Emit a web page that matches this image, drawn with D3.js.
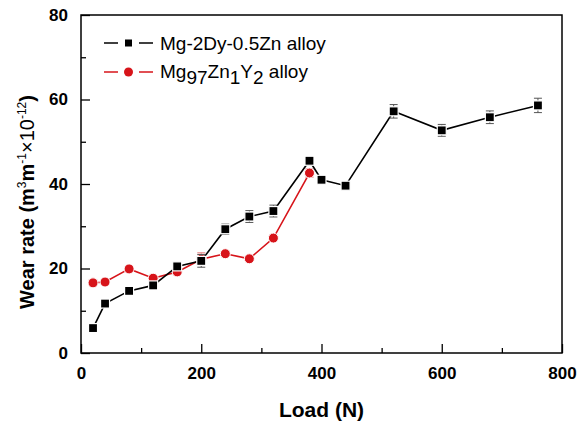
<!DOCTYPE html>
<html>
<head>
<meta charset="utf-8">
<script src="https://cdn.jsdelivr.net/npm/d3@7"></script>
<style>
  body { margin: 0; background: #fff; }
  text { font-family: "Liberation Sans", Arial, sans-serif; }
</style>
</head>
<body>
<div id="container"></div>
<script>
const w = 579;
const h = 423;

// Mg-2Dy-0.5Zn alloy
const loadA = [20, 40, 80, 120, 160, 200, 240, 280, 320, 380, 400, 440, 520, 600, 680, 760];
const rateA = [5.9, 11.7, 14.7, 16.0, 20.5, 21.8, 29.3, 32.3, 33.6, 45.5, 41.0, 39.6, 57.2, 52.7, 55.8, 58.6];
const errA  = [0.4, 0.4, 0.4, 0.4, 0.5, 1.5, 1.2, 1.4, 1.4, 1.0, 0.5, 0.4, 1.6, 1.4, 1.5, 1.7];

// Mg97Zn1Y2 alloy
const loadB = [20, 40, 80, 120, 160, 200, 240, 280, 320, 380];
const rateB = [16.6, 16.8, 19.9, 17.7, 19.2, 22.2, 23.5, 22.3, 27.2, 42.6];
const errB  = [0.4, 0.4, 0.4, 0.4, 0.4, 1.5, 0.5, 0.4, 0.5, 1.0];

const xTicks = [0, 200, 400, 600, 800];
const yTicks = [0, 20, 40, 60, 80];

const margin = { left: 81, right: 17, top: 15, bottom: 70 };

const svg = d3.select("#container")
  .append("svg")
  .attr("width", w)
  .attr("height", h);

const xScale = d3.scaleLinear()
  .domain([0, 800])
  .range([margin.left, w - margin.right]);

const yScale = d3.scaleLinear()
  .domain([0, 80])
  .range([h - margin.bottom, margin.top]);

// frame
svg.append("rect")
  .attr("x", xScale(0))
  .attr("y", yScale(80))
  .attr("width", xScale(800) - xScale(0))
  .attr("height", yScale(0) - yScale(80))
  .attr("fill", "none")
  .attr("stroke", "#000")
  .attr("stroke-width", 1.5);

// minor ticks
svg.append("g")
  .attr("transform", "translate(0," + yScale(0) + ")")
  .call(d3.axisBottom(xScale).tickValues(d3.range(100, 800, 200)).tickSize(-5).tickFormat(""))
  .call(g => g.select(".domain").remove());
svg.append("g")
  .attr("transform", "translate(" + xScale(0) + ",0)")
  .call(d3.axisLeft(yScale).tickValues(d3.range(10, 80, 20)).tickSize(-5).tickFormat(""))
  .call(g => g.select(".domain").remove());

const xAxis = svg.append("g")
  .attr("transform", "translate(0," + yScale(0) + ")")
  .call(d3.axisBottom(xScale).tickValues(xTicks).tickSize(-9).tickPadding(14));
xAxis.select(".domain").remove();

const yAxis = svg.append("g")
  .attr("transform", "translate(" + xScale(0) + ",0)")
  .call(d3.axisLeft(yScale).tickValues(yTicks).tickSize(-9).tickPadding(13));
yAxis.select(".domain").remove();

svg.selectAll(".tick line").attr("stroke", "#000").attr("stroke-width", 1.3);
svg.selectAll(".tick text")
  .style("font-size", "17px")
  .style("font-weight", "bold")
  .attr("fill", "#000");

// axis titles
svg.append("text")
  .attr("x", (xScale(0) + xScale(800)) / 2)
  .attr("y", 417)
  .attr("text-anchor", "middle")
  .style("font-size", "21px")
  .style("font-weight", "bold")
  .text("Load (N)");

const yTitle = svg.append("text")
  .attr("transform", "translate(34,202) rotate(-90)")
  .attr("text-anchor", "middle")
  .style("font-size", "20px")
  .style("font-weight", "bold");
yTitle.append("tspan").text("Wear rate (m");
yTitle.append("tspan").attr("dy", -8).style("font-size", "12px").style("font-weight", "normal").text("3");
yTitle.append("tspan").attr("dy", 8).text("m");
yTitle.append("tspan").attr("dy", -8).style("font-size", "12px").style("font-weight", "normal").text("-1");
yTitle.append("tspan").attr("dy", 8).style("font-weight", "normal").text("×10");
yTitle.append("tspan").attr("dy", -8).style("font-size", "12px").style("font-weight", "normal").text("-12");
yTitle.append("tspan").attr("dy", 8).text(")");

const line = d3.line()
  .x(d => xScale(d[0]))
  .y(d => yScale(d[1]));

function drawSeries(loads, rates, errs, color, shape) {
  const pts = loads.map((l, i) => [l, rates[i], errs[i]]);

  svg.append("path")
    .datum(pts)
    .attr("d", line)
    .attr("fill", "none")
    .attr("stroke", color)
    .attr("stroke-width", 1.6);

  const eb = svg.append("g").attr("stroke", color === "#000" ? "#555" : "#e07070").attr("stroke-width", 1);
  pts.forEach(p => {
    const x = xScale(p[0]);
    eb.append("line").attr("x1", x).attr("x2", x).attr("y1", yScale(p[1] - p[2])).attr("y2", yScale(p[1] + p[2]));
    eb.append("line").attr("x1", x - 4).attr("x2", x + 4).attr("y1", yScale(p[1] - p[2])).attr("y2", yScale(p[1] - p[2]));
    eb.append("line").attr("x1", x - 4).attr("x2", x + 4).attr("y1", yScale(p[1] + p[2])).attr("y2", yScale(p[1] + p[2]));
  });

  if (shape === "square") {
    svg.selectAll(null)
      .data(pts)
      .enter()
      .append("rect")
      .attr("x", d => xScale(d[0]) - 4.5)
      .attr("y", d => yScale(d[1]) - 4.5)
      .attr("width", 9)
      .attr("height", 9)
      .attr("fill", color)
      .attr("stroke", "#fff")
      .attr("stroke-width", 1.2);
  } else {
    svg.selectAll(null)
      .data(pts)
      .enter()
      .append("circle")
      .attr("cx", d => xScale(d[0]))
      .attr("cy", d => yScale(d[1]))
      .attr("r", 5)
      .attr("fill", color)
      .attr("stroke", "#fff")
      .attr("stroke-width", 1);
  }
}

drawSeries(loadB, rateB, errB, "#d7141a", "circle");
drawSeries(loadA, rateA, errA, "#000", "square");

// legend
const legend = svg.append("g");
const rows = [
  { y: 43, color: "#000", shape: "square" },
  { y: 72, color: "#d7141a", shape: "circle" }
];
rows.forEach(r => {
  legend.append("line").attr("x1", 104).attr("x2", 118).attr("y1", r.y).attr("y2", r.y)
    .attr("stroke", r.color).attr("stroke-width", 1.5);
  legend.append("line").attr("x1", 139).attr("x2", 153).attr("y1", r.y).attr("y2", r.y)
    .attr("stroke", r.color).attr("stroke-width", 1.5);
  if (r.shape === "square") {
    legend.append("rect").attr("x", 125).attr("y", r.y - 3.5).attr("width", 7).attr("height", 7)
      .attr("fill", r.color);
  } else {
    legend.append("circle").attr("cx", 128.5).attr("cy", r.y).attr("r", 4.5)
      .attr("fill", r.color);
  }
});

legend.append("text")
  .attr("x", 160).attr("y", 50)
  .style("font-size", "19px")
  .text("Mg-2Dy-0.5Zn alloy");

const t2 = legend.append("text")
  .attr("x", 160).attr("y", 78)
  .style("font-size", "19px");
t2.append("tspan").text("Mg");
t2.append("tspan").attr("dy", 6).text("97");
t2.append("tspan").attr("dy", -6).text("Zn");
t2.append("tspan").attr("dy", 6).text("1");
t2.append("tspan").attr("dy", -6).text("Y");
t2.append("tspan").attr("dy", 6).text("2");
t2.append("tspan").attr("dy", -6).text(" alloy");
</script>
</body>
</html>
